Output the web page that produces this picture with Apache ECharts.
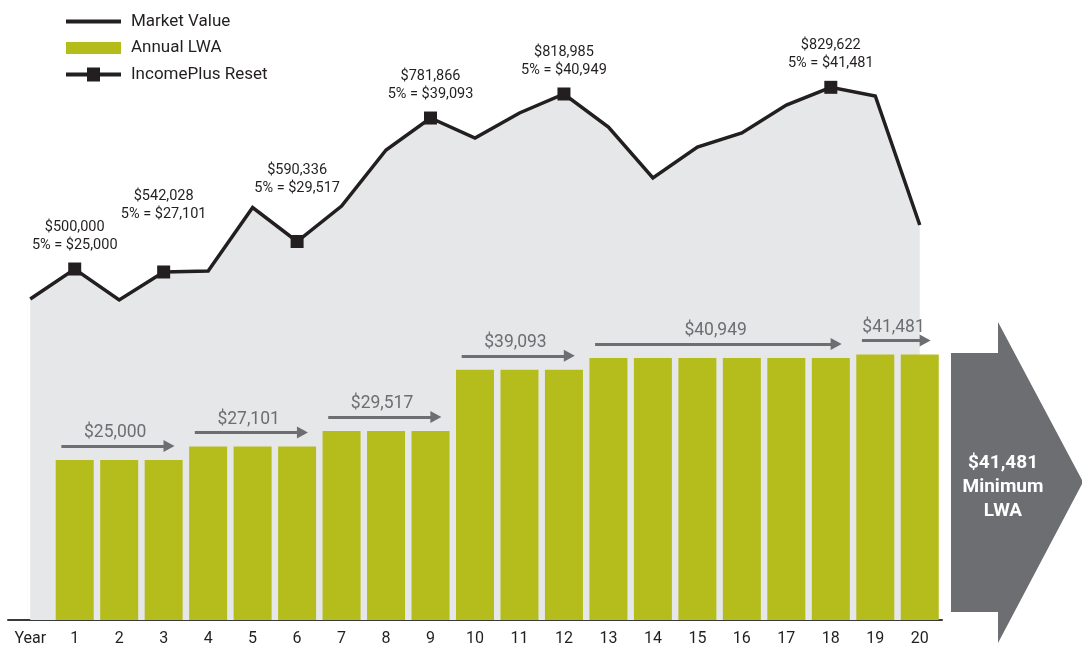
<!DOCTYPE html>
<html><head><meta charset="utf-8">
<script src="https://cdn.jsdelivr.net/npm/echarts@6/dist/echarts.min.js"></script>
<style>html,body{margin:0;padding:0;background:#fff}#chart{width:1082px;height:650px}</style>
</head><body><div id="chart"></div>
<script>
// ---- data ----
const years = ['Year','1','2','3','4','5','6','7','8','9','10','11','12','13','14','15','16','17','18','19','20'];
const marketValue = [445600, 500000, 443800, 494600, 496400, 611600, 549900, 614300, 715900, 773900, 737600, 783000, 817500, 757600, 665100, 721300, 746700, 797500, 829600, 813800, 579800];
const annualLWA = [null, 25000, 25000, 25000, 27101, 27101, 27101, 29517, 29517, 29517, 39093, 39093, 39093, 40949, 40949, 40949, 40949, 40949, 40949, 41481, 41481];
const resetYears = [1, 3, 6, 9, 12, 18];
const resetValues = [500000, 542028, 590336, 781866, 818985, 829622];
const resetLWA = [25000, 27101, 29517, 39093, 40949, 41481];
const lwaPeriods = [[1, 3], [4, 6], [7, 9], [10, 12], [13, 18], [19, 20]];
const lwaPeriodValues = [25000, 27101, 29517, 39093, 40949, 41481];
const minimumLWA = 41481;

// ---- helpers ----
const money = v => '$' + v.toLocaleString('en-US');
const FONT = 'Roboto';
const DARK = '#231f20';
const GREY = '#6d6e71';
const OLIVE = '#b5bd1d';
const FILL = '#e6e7e8';

const gridTop = 0, gridBottom = 30;
const plotH = 650 - gridTop - gridBottom;
const lwaMax = 96875;          // bar axis
const mvMin = -136700, mvMax = 988000;  // market value axis
const perPx = lwaMax / plotH;

const labelOffsets = {3: [0, -34], 6: [0, -30]};
const resetData = years.map((y, i) => {
  const k = resetYears.indexOf(i);
  if (k < 0) return null;
  return {
    value: marketValue[i],
    label: {
      formatter: money(resetValues[k]) + '\n5% = ' + money(resetLWA[k]),
      offset: labelOffsets[i] || [0, 0]
    }
  };
});

const arrowLines = lwaPeriods.map((p, k) => {
  const yv = lwaPeriodValues[k] + 14 * perPx;
  return [
    {coord: [p[0] - 0.3, yv], label: {formatter: money(lwaPeriodValues[k])}},
    {coord: [p[1] + 0.12, yv]}
  ];
});

const chart = echarts.init(document.getElementById('chart'), null, {renderer: 'canvas'});
chart.setOption({
  animation: false,
  backgroundColor: '#fff',
  textStyle: {fontFamily: FONT},
  grid: {left: 8, right: 140, top: gridTop, bottom: gridBottom, containLabel: false},
  legend: {
    orient: 'vertical', left: 61, top: 8,
    itemWidth: 55, itemHeight: 14, itemGap: 9.5,
    textStyle: {fontFamily: FONT, fontSize: 17, color: DARK, padding: [0, 0, 0, 5]},
    selectedMode: false,
    data: [
      {name: 'Market Value', icon: 'path://M0,0 L55,0 L55,4 L0,4 Z'},
      {name: 'Annual LWA', icon: 'path://M0,0 L55,0 L55,12 L0,12 Z'},
      {name: 'IncomePlus Reset', icon: 'path://M0,5 L21,5 L21,0 L34,0 L34,5 L55,5 L55,9 L34,9 L34,14 L21,14 L21,9 L0,9 Z'}
    ]
  },
  xAxis: [
    {
      type: 'category', data: years, boundaryGap: true,
      axisLine: {show: true, lineStyle: {color: '#3a3a3a', width: 2}},
      axisTick: {show: false},
      axisLabel: {fontFamily: FONT, fontSize: 16, color: DARK, margin: 11, interval: 0},
      splitLine: {show: false}
    },
    {type: 'value', min: -0.5, max: 20.5, show: false}
  ],
  yAxis: [
    {type: 'value', min: 0, max: lwaMax, show: false},
    {type: 'value', min: mvMin, max: mvMax, show: false}
  ],
  series: [
    {
      name: 'Market Value', type: 'line', data: marketValue,
      xAxisIndex: 0, yAxisIndex: 1,
      symbol: 'none', color: DARK,
      lineStyle: {color: DARK, width: 3.5, join: 'miter'},
      areaStyle: {color: FILL, opacity: 1, origin: 'start'},
      silent: true, z: 1
    },
    {
      name: 'Annual LWA', type: 'bar', data: annualLWA,
      xAxisIndex: 0, yAxisIndex: 0,
      barWidth: 38, color: OLIVE,
      itemStyle: {color: OLIVE},
      silent: true, z: 2
    },
    {
      name: 'IncomePlus Reset', type: 'line', data: resetData,
      xAxisIndex: 0, yAxisIndex: 1,
      symbol: 'rect', symbolSize: 13, showAllSymbol: true, color: DARK,
      itemStyle: {color: DARK},
      lineStyle: {width: 0, opacity: 0},
      connectNulls: false,
      label: {
        show: true, position: 'top', distance: 8,
        fontFamily: FONT, fontSize: 14.5, lineHeight: 18, color: DARK, align: 'center'
      },
      silent: true, z: 5
    },
    {
      name: 'LWA arrows', type: 'line', data: [],
      xAxisIndex: 1, yAxisIndex: 0,
      markLine: {
        silent: true, animation: false,
        symbol: ['none', 'triangle'], symbolSize: [12, 11],
        lineStyle: {color: GREY, width: 3, type: 'solid'},
        label: {
          show: true, position: 'insideMiddleTop', distance: 4,
          fontFamily: FONT, fontSize: 17.5, color: GREY
        },
        emphasis: {disabled: true},
        data: arrowLines
      },
      z: 4
    }
  ],
  graphic: [
    {
      type: 'polygon', silent: true,
      shape: {points: [[951, 353], [998, 353], [998, 322], [1083, 482], [998, 643], [998, 612], [951, 612]]},
      style: {fill: GREY}
    },
    {
      type: 'text', silent: true, x: 1003, y: 487,
      style: {
        text: money(minimumLWA) + '\nMinimum\nLWA',
        fill: '#fff', font: 'bold 19px Roboto', align: 'center', verticalAlign: 'middle', lineHeight: 24
      }
    }
  ]
});
</script>
</body></html>
